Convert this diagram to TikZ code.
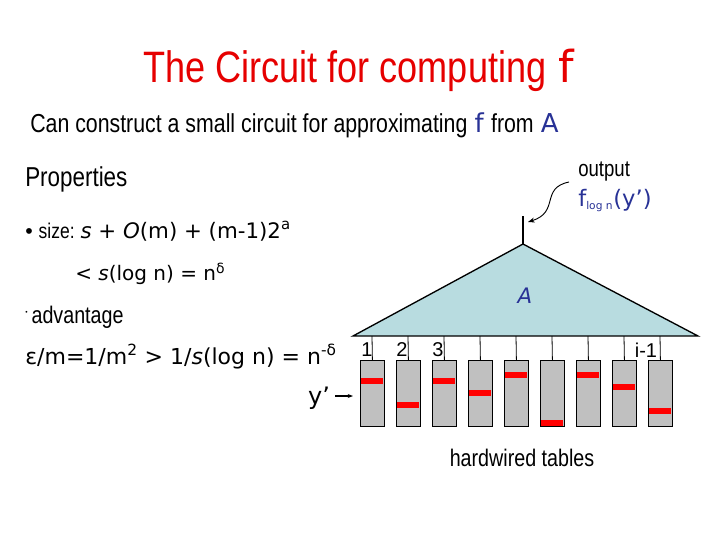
\documentclass[tikz,border=0pt]{standalone}
\usepackage{fontspec}
\setmainfont{Liberation Sans}
\newfontfamily\mfont{DejaVu Sans}
\usetikzlibrary{arrows.meta}
\definecolor{tri}{RGB}{184,220,224}
\definecolor{tab}{RGB}{192,192,192}
\definecolor{bluet}{RGB}{40,50,150}
\definecolor{titr}{RGB}{230,0,0}
\newcommand{\nar}[2][0.82]{\scalebox{#1}[1]{#2}}
\begin{document}
\begin{tikzpicture}[x=0.75pt,y=-0.75pt,
  txt/.style={inner sep=0pt,anchor=base west},
  tbl/.style={draw=black,fill=tab,minimum width=18pt,minimum height=49.5pt,inner sep=0pt,anchor=north west,line width=0.6pt},
  bar/.style={fill=red,draw=none,minimum width=17pt,minimum height=4.5pt,inner sep=0pt}]
\useasboundingbox (0,0) rectangle (720,540);
% title
\node[txt,text=titr,font=\fontsize{33}{34}\selectfont] (title) at (143,82) {\nar{The Circuit for computing} {\mfont f}};
\node[txt,font=\fontsize{19.5}{21}\selectfont] (sub) at (30,132) {\nar{Can construct a small circuit for approximating} \textcolor{bluet}{\mfont f} \nar{from} \textcolor{bluet}{\mfont A}};
% left text
\node[txt,font=\fontsize{20.5}{22}\selectfont] (prop) at (25,186) {\nar{Properties}};
\node[txt,font=\fontsize{16}{18}\selectfont] (size) at (25,238) {\textbullet\ \nar{size:} {\mfont\textit{s} + \textit{O}(m) + (m-1)2\textsuperscript{a}}};
\node[txt,font=\fontsize{15}{18}\selectfont] (less) at (75,280) {\mfont < \textit{s}(log n) = n\textsuperscript{δ}};
\node[txt,font=\fontsize{18}{20}\selectfont] (adv) at (25,323) {\raisebox{0.7ex}{\tiny\textbullet}\,\nar{advantage}};
\node[txt,font=\fontsize{16.5}{18}\selectfont] (eps) at (25,364) {\mfont ε/m=1/m\textsuperscript{2} > 1/\textit{s}(log n) = n\textsuperscript{-δ}};
% circuit
\coordinate (top) at (523,216);
\coordinate (apex) at (523,244);
\draw[fill=tri,line width=1pt] (353,336) -- (apex) -- (698,336) -- cycle;
\draw[line width=1pt] (top) -- (apex);
\node[text=bluet,font=\mfont\itshape\fontsize{16}{18}\selectfont] (A) at (525,296) {A};
\node[txt,font=\fontsize{17}{18}\selectfont] (out) at (578,176) {\nar{output}};
\node[txt,text=bluet,font=\mfont\fontsize{17}{18}\selectfont] (fy) at (578,206) {f\textsubscript{\footnotesize log n}(y’)};
\draw[-{Stealth[length=5pt]},line width=0.7pt] (569,182) .. controls (540,188) and (560,212) .. (528,222);
% tables
\foreach \i/\x/\r in {1/360/381,2/396/405,3/432/381,4/468/393,5/504/375,6/540/423,7/576/375,8/612/387,9/648/411}{
  \node[tbl] (t\i) at (\x,360) {};
  \draw[line width=0.6pt] (t\i.north) -- (\x+12,336);
  \node[bar] (b\i) at (\x+12,\r) {};
}
\node[font=\fontsize{15}{15}\selectfont] (l1) at (367,350) {1};
\node[font=\fontsize{15}{15}\selectfont] (l2) at (402,350) {2};
\node[font=\fontsize{15}{15}\selectfont] (l3) at (438,350) {3};
\node[font=\fontsize{15}{15}\selectfont] (l9) at (646,350) {i-1};
\node[font=\mfont\fontsize{18}{18}\selectfont] (y) at (319,398) {y’};
\coordinate (yarr) at (353,396);
\draw[-{Stealth[length=4pt]},line width=0.8pt] (335,396) -- (yarr);
\node[font=\fontsize{18}{20}\selectfont] (hw) at (522,458) {\nar{hardwired tables}};
\end{tikzpicture}
\end{document}
